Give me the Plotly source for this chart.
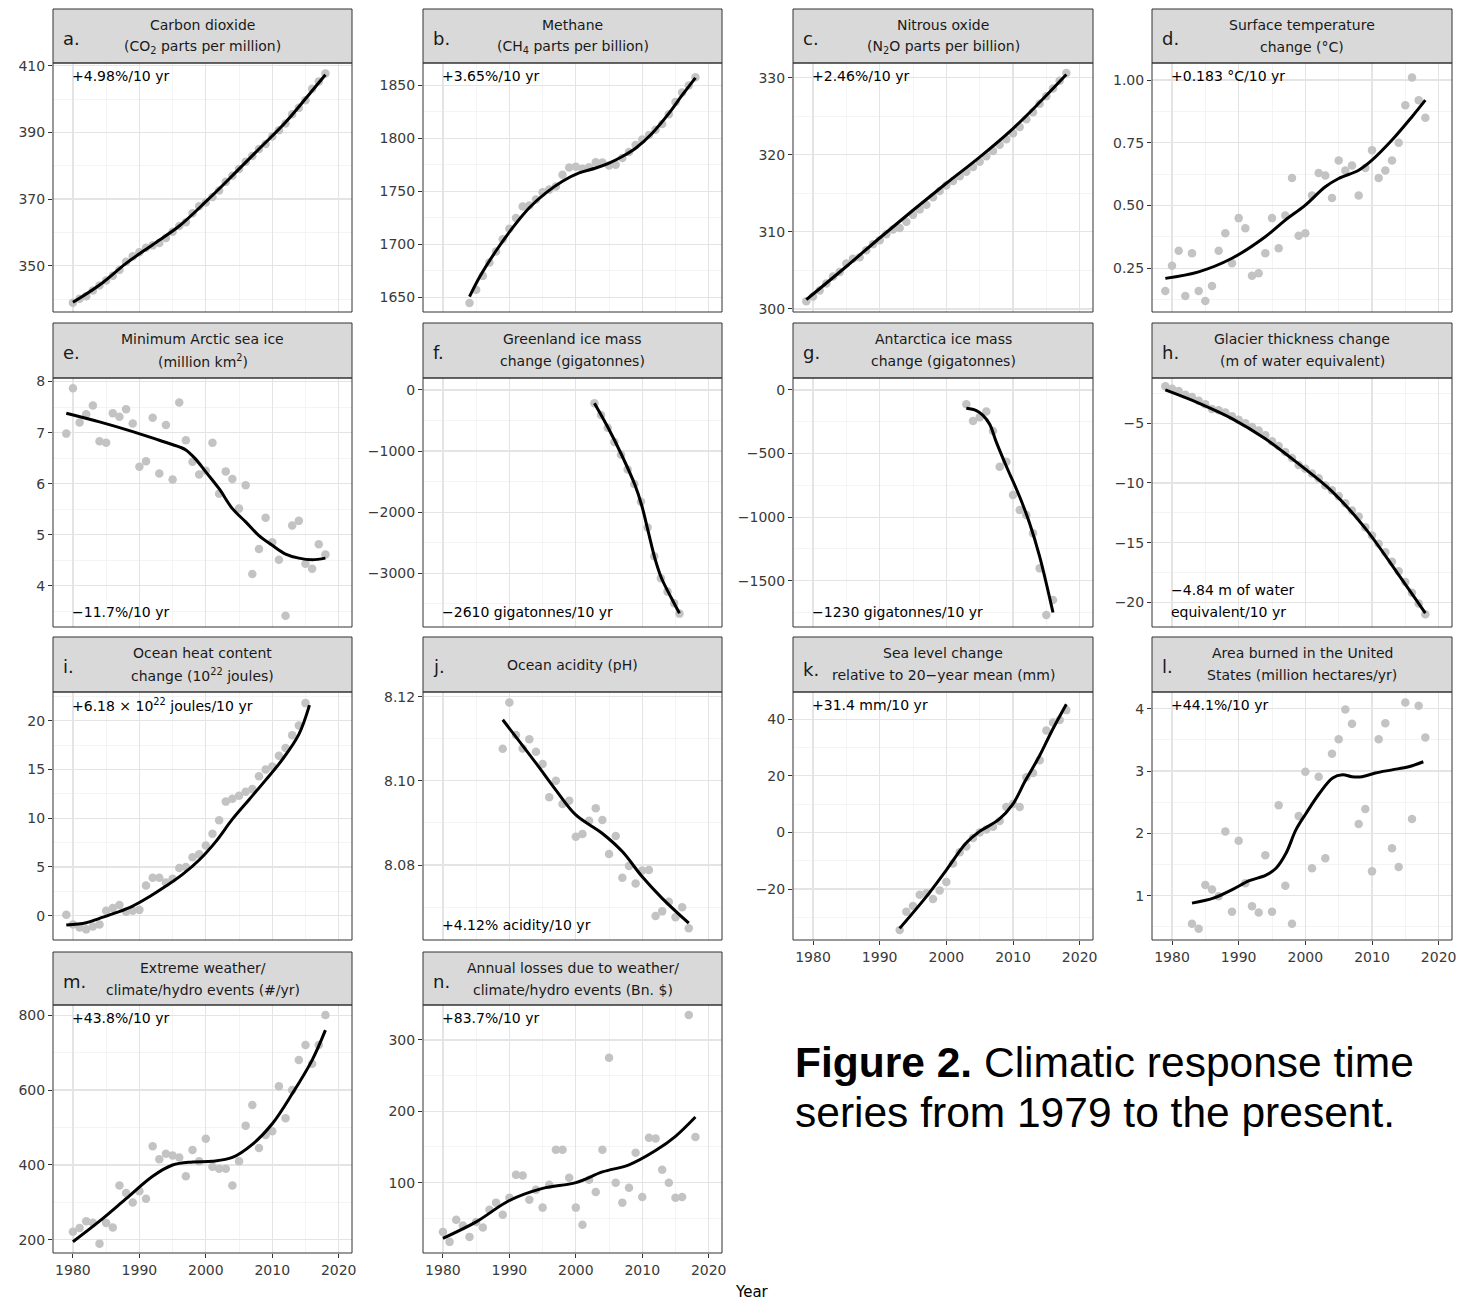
import plotly.graph_objects as go

# ---------------- data ----------------
co2_years = list(range(1980, 2019))
co2_ppm = [338.91, 340.11, 340.86, 342.53, 344.07, 345.54, 346.97, 348.68, 351.16, 352.79,
           354.06, 355.39, 356.09, 356.83, 358.33, 360.17, 361.93, 363.05, 365.70, 367.80,
           368.96, 370.57, 372.58, 375.14, 376.95, 378.98, 381.15, 382.90, 385.02, 386.50,
           388.76, 390.63, 392.65, 395.40, 397.34, 399.65, 403.06, 405.22, 407.62]
co2_fit_years = [1980, 1984, 1988, 1992, 1996, 2000, 2004, 2008, 2012, 2016, 2018]
co2_fit = [339.0, 344.2, 350.7, 356.3, 361.9, 369.2, 377.0, 385.0, 393.0, 402.5, 407.3]

ch4_years = list(range(1984, 2019))
ch4_ppb = [1644.6, 1657.1, 1670.1, 1682.7, 1693.2, 1704.6, 1714.5, 1724.8, 1735.5, 1736.5,
           1742.1, 1748.9, 1751.5, 1754.5, 1765.5, 1772.4, 1773.2, 1771.3, 1772.7, 1777.3,
           1777.0, 1774.2, 1774.9, 1781.4, 1787.1, 1793.5, 1798.9, 1803.1, 1808.1, 1813.4,
           1822.6, 1834.3, 1843.1, 1849.7, 1857.6]
ch4_fit_years = [1984, 1985.5, 1988, 1990.5, 1993, 1995.5, 1998, 2000.5, 2003, 2005, 2007, 2009, 2011.5, 2014, 2016, 2018]
ch4_fit = [1650.5, 1668.8, 1693.8, 1715.6, 1734.4, 1748.4, 1759.4, 1767.2, 1771.9, 1776.6, 1782.8, 1790.6, 1804.7, 1823.4, 1840.6, 1857.0]

n2o_years = list(range(1979, 2019))
n2o_ppb = [301.0, 301.6, 302.4, 303.3, 304.2, 304.8, 305.9, 306.5, 306.7, 307.6,
           308.4, 308.9, 309.7, 310.3, 310.5, 311.3, 312.2, 312.9, 313.5, 314.5,
           315.3, 316.0, 316.6, 317.2, 317.8, 318.4, 319.1, 319.8, 320.5, 321.3,
           322.0, 322.8, 323.6, 324.6, 325.5, 326.6, 327.6, 328.6, 329.6, 330.6]
n2o_fit_years = [1979, 1985, 1990, 1995, 2000, 2005, 2010, 2014, 2018]
n2o_fit = [301.2, 305.5, 309.2, 312.8, 316.3, 319.7, 323.4, 326.8, 330.4]

temp_years = list(range(1979, 2019))
temp_change = [0.16, 0.26, 0.32, 0.14, 0.31, 0.16, 0.12, 0.18, 0.32, 0.39,
               0.27, 0.45, 0.41, 0.22, 0.23, 0.31, 0.45, 0.33, 0.46, 0.61,
               0.38, 0.39, 0.54, 0.63, 0.62, 0.53, 0.68, 0.64, 0.66, 0.54,
               0.65, 0.72, 0.61, 0.64, 0.68, 0.75, 0.90, 1.01, 0.92, 0.85]
temp_fit_years = [1979, 1984, 1989, 1994, 1997, 2000, 2003, 2005, 2008, 2010, 2013, 2016, 2018]
temp_fit = [0.210, 0.236, 0.290, 0.376, 0.442, 0.502, 0.575, 0.608, 0.641, 0.681, 0.761, 0.854, 0.920]

ice_years = list(range(1979, 2019))
sea_ice = [6.98, 7.87, 7.20, 7.36, 7.53, 6.83, 6.80, 7.38, 7.31, 7.46,
           7.18, 6.33, 6.44, 7.29, 6.20, 7.15, 6.08, 7.59, 6.85, 6.43,
           6.18, 6.25, 6.80, 5.80, 6.24, 6.09, 5.51, 5.97, 4.23, 4.72,
           5.33, 4.85, 4.51, 3.41, 5.18, 5.27, 4.43, 4.33, 4.81, 4.61]
ice_fit_years = [1979, 1984, 1989, 1993, 1996, 1997, 1998.4, 2000, 2002, 2004, 2006, 2008, 2010, 2012, 2014, 2016, 2018]
ice_fit = [7.38, 7.21, 7.02, 6.85, 6.72, 6.66, 6.49, 6.23, 5.90, 5.51, 5.25, 4.98, 4.79, 4.62, 4.54, 4.51, 4.54]

greenland_years = [2002.8, 2003.8, 2004.8, 2005.8, 2006.8, 2007.8, 2008.8, 2009.8, 2010.8, 2011.8, 2012.8, 2013.8, 2014.8, 2015.6]
greenland_gt = [-218, -410, -620, -850, -1060, -1300, -1540, -1830, -2250, -2720, -3080, -3300, -3490, -3660]
greenland_fit_years = [2002.8, 2004.9, 2006.9, 2008.9, 2009.9, 2010.9, 2011.9, 2012.9, 2014.4, 2015.6]
greenland_fit = [-218, -627, -1064, -1555, -1882, -2318, -2755, -3082, -3409, -3655]

antarctica_years = list(range(2003, 2017))
antarctica_gt = [-113, -244, -215, -170, -322, -603, -564, -826, -944, -983, -1127, -1403, -1770, -1652]
antarctica_fit_years = [2003, 2004.5, 2005.5, 2006.5, 2007.5, 2009, 2011, 2012.5, 2014, 2016]
antarctica_fit = [-144, -162, -200, -270, -410, -600, -840, -1050, -1310, -1750]

glacier_years = list(range(1979, 2019))
glacier_m = [-1.9, -2.1, -2.3, -2.6, -2.8, -3.1, -3.4, -3.8, -3.9, -4.1,
             -4.4, -4.7, -5.0, -5.3, -5.6, -6.0, -6.5, -6.9, -7.4, -7.9,
             -8.5, -8.8, -9.2, -9.6, -10.2, -10.6, -11.1, -11.7, -12.3, -12.8,
             -13.7, -14.4, -15.1, -15.8, -16.6, -17.4, -18.3, -19.2, -20.1, -21.0]
glacier_fit_years = [1979, 1984, 1989, 1994, 1999, 2004, 2009, 2014, 2018]
glacier_fit = [-2.2, -3.3, -4.6, -6.3, -8.4, -10.7, -13.8, -17.7, -20.9]

ohc_years = list(range(1979, 2016))
ohc = [0.1, -0.9, -1.2, -1.4, -1.1, -0.9, 0.5, 0.8, 1.1, 0.4,
       0.5, 0.6, 3.1, 3.9, 3.9, 3.4, 3.8, 4.9, 5.0, 6.0,
       6.3, 7.2, 8.4, 9.8, 11.7, 12.0, 12.3, 12.7, 13.0, 14.3,
       15.0, 15.3, 16.4, 17.2, 18.5, 19.5, 21.8]
ohc_fit_years = [1979, 1982, 1984, 1986.5, 1989, 1991.5, 1994, 1996.5, 1999, 2001.5, 2004, 2006.5, 2009, 2011.5, 2014, 2015.6]
ohc_fit = [-0.96, -0.72, -0.27, 0.31, 0.99, 1.95, 3.04, 4.24, 5.71, 7.6, 9.9, 11.9, 13.9, 16.0, 18.6, 21.6]

ph_years = list(range(1989, 2018))
ocean_ph = [8.1076, 8.1186, 8.1109, 8.1077, 8.1099, 8.1069, 8.1040, 8.0961, 8.1000, 8.0945,
            8.0953, 8.0867, 8.0874, 8.0905, 8.0935, 8.0907, 8.0826, 8.0869, 8.0770, 8.0798,
            8.0756, 8.0787, 8.0788, 8.0679, 8.0690, 8.0713, 8.0676, 8.0700, 8.0650]
ph_fit_years = [1989, 1994, 1997, 2000, 2004, 2007, 2010, 2013, 2017]
ph_fit = [8.1145, 8.1042, 8.0978, 8.0919, 8.0875, 8.0832, 8.0772, 8.0721, 8.0662]

sea_years = list(range(1993, 2019))
sea_level = [-34.5, -28, -26, -22, -21.5, -23.5, -20.5, -17.5, -11, -7,
             -5, -2, 0, 1, 2, 4, 9, 10, 9, 19.5,
             21, 25.5, 36, 38.8, 39.7, 43.2]
sea_fit_years = [1993, 1997, 2000, 2002.9, 2004.9, 2007.9, 2009.9, 2011.9, 2013.9, 2015.9, 2018]
sea_fit = [-33.9, -22.7, -13.3, -3.9, 0.2, 4.6, 9.7, 18.5, 26.7, 36.2, 45.3]

fire_years = list(range(1983, 2019))
area_burned = [0.55, 0.47, 1.17, 1.10, 0.99, 2.03, 0.74, 1.88, 1.20, 0.83,
               0.73, 1.65, 0.74, 2.45, 1.16, 0.55, 2.28, 2.99, 1.44, 2.91,
               1.60, 3.28, 3.51, 3.99, 3.76, 2.15, 2.39, 1.39, 3.51, 3.77,
               1.76, 1.46, 4.10, 2.23, 4.05, 3.54]
fire_fit_years = [1983, 1986.2, 1989.1, 1991.6, 1994.1, 1995.6, 1997.1, 1998.6, 2000.1, 2002.1, 2004.1, 2005.6, 2007, 2008.5, 2010.5, 2013, 2015.5, 2017.7]
fire_fit = [0.88, 0.96, 1.10, 1.24, 1.33, 1.44, 1.68, 2.06, 2.32, 2.64, 2.89, 2.94, 2.91, 2.91, 2.97, 3.02, 3.07, 3.15]

events_years = list(range(1980, 2019))
extreme_events = [222, 232, 250, 246, 190, 245, 233, 345, 325, 300,
                  330, 310, 450, 415, 430, 425, 420, 370, 440, 410,
                  470, 395, 390, 390, 345, 410, 505, 560, 445, 480,
                  490, 610, 525, 600, 680, 720, 670, 720, 800]
events_fit_years = [1980, 1984, 1988, 1992, 1995, 1998, 2001, 2004, 2007, 2010, 2013, 2016, 2018]
events_fit = [195, 250, 310, 370, 400, 408, 410, 420, 455, 510, 590, 680, 760]

loss_years = list(range(1980, 2019))
annual_losses = [31, 17, 48, 40, 24, 45, 37, 62, 72, 55,
                 79, 111, 110, 76, 90, 65, 97, 146, 146, 107,
                 65, 41, 104, 87, 146, 275, 100, 72, 93, 142,
                 80, 163, 162, 118, 100, 79, 80, 335, 164]
loss_fit_years = [1980, 1985, 1990, 1995, 2000, 2004, 2008, 2012, 2015, 2018]
loss_fit = [22, 45, 75, 92, 100, 115, 125, 145, 165, 192]

x_major = [1980, 1990, 2000, 2010, 2020]
x_minor = [1975, 1985, 1995, 2005, 2015]

# ---------------- panel setup ----------------
W, H = 1460, 1302
COLS = [(53, 352), (423, 722), (793, 1093), (1152, 1452)]
ROWS = [(9, 63, 312), (323, 378, 627), (637, 692, 940), (952, 1005, 1253)]
XRANGE = [1977, 2022]


def px(x):
    return x / W


def py(y):
    return 1 - y / H


panels = [
    dict(tag='a.', pos=(0, 0), title=['Carbon dioxide', '(CO<sub>2</sub> parts per million)'],
         note=['+4.98%/10 yr'], where='top', yr=[336.1, 410.8], dt=20, t0=10, x=co2_years, y=co2_ppm,
         fx=co2_fit_years, fy=co2_fit, fmt=''),
    dict(tag='b.', pos=(0, 1), title=['Methane', '(CH<sub>4</sub> parts per billion)'],
         note=['+3.65%/10 yr'], where='top', yr=[1636, 1871], dt=50, x=ch4_years, y=ch4_ppb,
         fx=ch4_fit_years, fy=ch4_fit, fmt=''),
    dict(tag='c.', pos=(0, 2), title=['Nitrous oxide', '(N<sub>2</sub>O parts per billion)'],
         note=['+2.46%/10 yr'], where='top', yr=[299.6, 331.9], dt=10, x=n2o_years, y=n2o_ppb,
         fx=n2o_fit_years, fy=n2o_fit, fmt=''),
    dict(tag='d.', pos=(0, 3), title=['Surface temperature', 'change (°C)'],
         note=['+0.183 °C/10 yr'], where='top', yr=[0.076, 1.068], dt=0.25, x=temp_years, y=temp_change,
         fx=temp_fit_years, fy=temp_fit, fmt='.2f'),
    dict(tag='e.', pos=(1, 0), title=['Minimum Arctic sea ice', '(million km<sup>2</sup>)'],
         note=['−11.7%/10 yr'], where='bottom', yr=[3.19, 8.07], dt=1, x=ice_years, y=sea_ice,
         fx=ice_fit_years, fy=ice_fit, fmt=''),
    dict(tag='f.', pos=(1, 1), title=['Greenland ice mass', 'change (gigatonnes)'],
         note=['−2610 gigatonnes/10 yr'], where='bottom', yr=[-3879, 196], dt=1000, x=greenland_years,
         y=greenland_gt, fx=greenland_fit_years, fy=greenland_fit, fmt=''),
    dict(tag='g.', pos=(1, 2), title=['Antarctica ice mass', 'change (gigatonnes)'],
         note=['−1230 gigatonnes/10 yr'], where='bottom', yr=[-1864, 94], dt=500, x=antarctica_years,
         y=antarctica_gt, fx=antarctica_fit_years, fy=antarctica_fit, fmt=''),
    dict(tag='h.', pos=(1, 3), title=['Glacier thickness change', '(m of water equivalent)'],
         note=['−4.84 m of water', 'equivalent/10 yr'], where='bottom', yr=[-22.07, -1.2], dt=5,
         x=glacier_years, y=glacier_m, fx=glacier_fit_years, fy=glacier_fit, fmt=''),
    dict(tag='i.', pos=(2, 0), title=['Ocean heat content', 'change (10<sup>22</sup> joules)'],
         note=['+6.18 × 10<sup>22</sup> joules/10 yr'], where='top', yr=[-2.49, 22.94], dt=5,
         x=ohc_years, y=ohc, fx=ohc_fit_years, fy=ohc_fit, fmt=''),
    dict(tag='j.', pos=(2, 1), title=['Ocean acidity (pH)'],
         note=['+4.12% acidity/10 yr'], where='bottom', yr=[8.0622, 8.1211], dt=0.02,
         x=ph_years, y=ocean_ph, fx=ph_fit_years, fy=ph_fit, fmt='.2f'),
    dict(tag='k.', pos=(2, 2), title=['Sea level change', 'relative to 20−year mean (mm)'],
         note=['+31.4 mm/10 yr'], where='top', yr=[-38.0, 49.6], dt=20, x=sea_years, y=sea_level,
         fx=sea_fit_years, fy=sea_fit, fmt='', xlab=True),
    dict(tag='l.', pos=(2, 3), title=['Area burned in the United', 'States (million hectares/yr)'],
         note=['+44.1%/10 yr'], where='top', yr=[0.288, 4.27], dt=1, x=fire_years, y=area_burned,
         fx=fire_fit_years, fy=fire_fit, fmt='', xlab=True),
    dict(tag='m.', pos=(3, 0), title=['Extreme weather/', 'climate/hydro events (#/yr)'],
         note=['+43.8%/10 yr'], where='top', yr=[165, 827], dt=200, x=events_years, y=extreme_events,
         fx=events_fit_years, fy=events_fit, fmt='', xlab=True),
    dict(tag='n.', pos=(3, 1), title=['Annual losses due to weather/', 'climate/hydro events (Bn. $)'],
         note=['+83.7%/10 yr'], where='top', yr=[1.4, 349], dt=100, x=loss_years, y=annual_losses,
         fx=loss_fit_years, fy=loss_fit, fmt='', xlab=True),
]

FONT = 'DejaVu Sans'
TICK_COLOR = '#3a3a3a'
fig = go.Figure()
layout = {}
shapes = []
annotations = []

for i, p in enumerate(panels, start=1):
    r, c = p['pos']
    left, right = COLS[c]
    s_top, p_top, p_bot = ROWS[r]
    sfx = '' if i == 1 else str(i)
    xa, ya = 'x' + sfx, 'y' + sfx
    xlab = p.get('xlab', False)
    t0 = p.get('t0', 0)

    layout['xaxis' + sfx] = dict(
        domain=[px(left), px(right)], range=XRANGE, anchor=ya,
        tickmode='array', tickvals=x_major, showticklabels=xlab,
        ticks='outside' if xlab else '', ticklen=4, tickcolor='#333333', tickwidth=1,
        tickfont=dict(family=FONT, size=14, color=TICK_COLOR),
        showgrid=True, gridcolor='#E4E4E4', gridwidth=1.2,
        minor=dict(tickmode='array', tickvals=x_minor, showgrid=True, gridcolor='#F1F1F1', gridwidth=0.8),
        zeroline=False, showline=False, automargin=False, fixedrange=True)
    layout['yaxis' + sfx] = dict(
        domain=[py(p_bot), py(p_top)], range=p['yr'], anchor=xa,
        tickmode='linear', tick0=t0, dtick=p['dt'], tickformat=p['fmt'],
        ticks='outside', ticklen=4, tickcolor='#333333', tickwidth=1,
        tickfont=dict(family=FONT, size=14, color=TICK_COLOR),
        showgrid=True, gridcolor='#E4E4E4', gridwidth=1.2,
        minor=dict(tick0=t0, dtick=p['dt'] / 2, showgrid=True, gridcolor='#F1F1F1', gridwidth=0.8),
        zeroline=False, showline=False, automargin=False, fixedrange=True)

    fig.add_trace(go.Scatter(x=p['x'], y=p['y'], mode='markers', xaxis=xa, yaxis=ya,
                             marker=dict(color='#C3C3C3', size=8.5, line=dict(width=0)),
                             showlegend=False, hoverinfo='skip'))
    fig.add_trace(go.Scatter(x=p['fx'], y=p['fy'], mode='lines', xaxis=xa, yaxis=ya,
                             line=dict(color='black', width=3, shape='spline', smoothing=1.0),
                             showlegend=False, hoverinfo='skip'))

    # strip
    shapes.append(dict(type='rect', xref='paper', yref='paper', x0=px(left), x1=px(right),
                       y0=py(p_top), y1=py(s_top), fillcolor='#D9D9D9',
                       line=dict(color='#333333', width=1), layer='above'))
    # panel border
    shapes.append(dict(type='rect', xref='paper', yref='paper', x0=px(left), x1=px(right),
                       y0=py(p_bot), y1=py(p_top), fillcolor='rgba(0,0,0,0)',
                       line=dict(color='#333333', width=1), layer='above'))

    # strip letter
    tag_y = s_top + (33 if p['tag'] == 'k.' else 29)
    annotations.append(dict(x=px(left + 8), y=py(tag_y), xref='paper', yref='paper', text=p['tag'],
                            showarrow=False, xanchor='left', yanchor='middle',
                            font=dict(family=FONT, size=18, color='#1a1a1a')))
    cx = (left + right) / 2
    if len(p['title']) == 2:
        for k, line in enumerate(p['title']):
            annotations.append(dict(x=px(cx), y=py(s_top + 16 + 22 * k), xref='paper', yref='paper',
                                    text=line, showarrow=False, xanchor='center', yanchor='middle',
                                    font=dict(family=FONT, size=14, color='#1a1a1a')))
    else:
        annotations.append(dict(x=px(cx), y=py((s_top + p_top) / 2), xref='paper', yref='paper',
                                text=p['title'][0], showarrow=False, xanchor='center', yanchor='middle',
                                font=dict(family=FONT, size=14, color='#1a1a1a')))

    # trend note
    n = len(p['note'])
    for k, line in enumerate(p['note']):
        if p['where'] == 'top':
            yy = p_top + 13 + 22 * k
        else:
            yy = p_bot - 15 - 22 * (n - 1 - k)
        annotations.append(dict(x=px(left + 17), y=py(yy), xref='paper', yref='paper', text=line,
                                showarrow=False, xanchor='left', yanchor='middle',
                                font=dict(family=FONT, size=14, color='black')))

# shared x title
annotations.append(dict(x=px(752), y=py(1292), xref='paper', yref='paper', text='Year',
                        showarrow=False, xanchor='center', yanchor='middle',
                        font=dict(family=FONT, size=15, color='black')))
# caption
annotations.append(dict(x=px(793), y=py(1062), xref='paper', yref='paper',
                        text='<b>Figure 2.</b> Climatic response time',
                        showarrow=False, xanchor='left', yanchor='middle',
                        font=dict(family='Liberation Sans', size=42.5, color='black')))
annotations.append(dict(x=px(793), y=py(1112), xref='paper', yref='paper',
                        text='series from 1979 to the present.',
                        showarrow=False, xanchor='left', yanchor='middle',
                        font=dict(family='Liberation Sans', size=42.5, color='black')))

fig.update_layout(**layout)
fig.update_layout(width=W, height=H, margin=dict(l=0, r=0, t=0, b=0),
                  paper_bgcolor='white', plot_bgcolor='white',
                  shapes=shapes, annotations=annotations, showlegend=False)
fig.write_html('out.html', config={'displayModeBar': False, 'staticPlot': True},
               post_script="document.body.style.margin='0';document.body.style.overflow='hidden';")
